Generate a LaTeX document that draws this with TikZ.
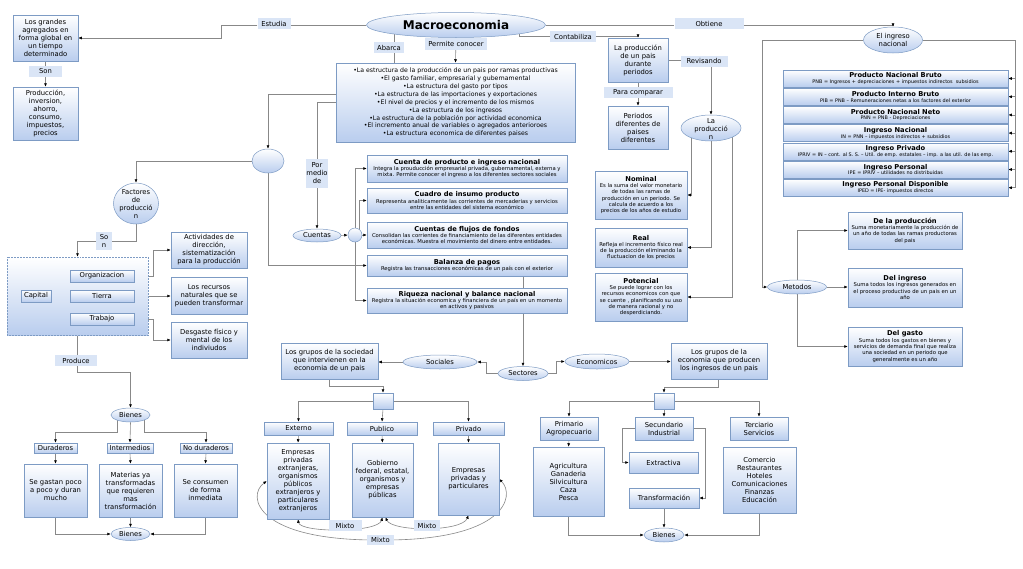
\documentclass[tikz,border=0pt]{standalone}
\usepackage{fontspec}
\setmainfont{DejaVu Sans}
\usetikzlibrary{shapes.geometric,arrows.meta,calc}
\definecolor{bd}{HTML}{7D9BC4}
\definecolor{bb}{HTML}{B9CDEE}
\definecolor{lb}{HTML}{DAE5F6}
\definecolor{lnc}{HTML}{888888}
\newcommand{\txtN}{\fontsize{6.8}{8}\selectfont}
\newcommand{\txtL}{\fontsize{6.2}{7.85}\selectfont}
\newcommand{\txtS}{\fontsize{5.3}{6.3}\selectfont}
\newcommand{\txtF}{\fontsize{4.9}{5.8}\selectfont}
\newcommand{\txtT}{\fontsize{6.7}{8}\selectfont\bfseries}
\pgfdeclarelayer{bg}
\pgfsetlayers{bg,main}
\tikzset{
 box/.style={draw=bd, line width=0.5pt, top color=white, bottom color=bb, align=center, inner sep=0.5pt, font=\txtN},
 lbl/.style={fill=lb, inner sep=0.5pt, align=center, font=\txtN},
 ell/.style={ellipse, draw=bd, line width=0.5pt, top color=white, bottom color=bb, inner sep=0pt},
 etxt/.style={inner sep=0pt, align=center, font=\txtN},
 conn/.style={draw=lnc, line width=0.6pt},
 arr/.style={conn, -{Latex[length=3.5pt,width=3pt,color=black]}},
 darr/.style={conn, {Latex[length=3.5pt,width=3pt,color=black]}-{Latex[length=3.5pt,width=3pt,color=black]}},
}
\begin{document}
\begin{tikzpicture}[x=1pt,y=-1pt]
\useasboundingbox (0,0) rectangle (1023,568);
% ---------- top ----------
\node[ell, minimum width=179pt, minimum height=25pt] (macro) at (456,25) {};
\node[etxt, font=\fontsize{12}{14}\selectfont\bfseries] (macro-t) at (macro) {Macroeconomia};
\node[lbl, minimum width=33pt, minimum height=11pt] (estudia) at (274,23.5) {Estudia};
\node[box, minimum width=65pt, minimum height=46pt] (grandes) at (45.5,38) {Los grandes\\agregados en\\forma global en\\un tiempo\\determinado};
\node[lbl, minimum width=33pt, minimum height=11pt] (son) at (45.5,71.5) {Son};
\node[box, minimum width=65pt, minimum height=53pt] (prod) at (45.5,113.5) {Producción,\\inversion,\\ahorro,\\consumo,\\impuestos,\\precios};
\node[lbl, minimum width=30pt, minimum height=11pt] (abarca) at (389,47.5) {Abarca};
\node[lbl, minimum width=62pt, minimum height=12pt] (permite) at (456,44) {Permite conocer};
\node[box, font=\txtL, minimum width=239pt, minimum height=79pt] (bullets) at (455.5,102.5) {•La estructura de la producción de un pais por ramas productivas\\•El gasto familiar, empresarial y gubernamental\\•La estructura del gasto por tipos\\•La estructura de las importaciones y exportaciones\\•El nivel de precios y el incremento de los mismos\\•La estructura de los ingresos\\•La estructura de la población por actividad economica\\•El incremento anual de variables o agregados anterioroes\\•La estructura economica de diferentes paises};
\node[lbl, minimum width=46pt, minimum height=11pt] (contab) at (573,36.5) {Contabiliza};
\node[lbl, minimum width=69pt, minimum height=11pt] (obtiene) at (709,23.5) {Obtiene};
\node[box, minimum width=60pt, minimum height=44pt] (ppais) at (638,60) {La producción\\de un pais\\durante\\periodos};
\node[lbl, minimum width=47pt, minimum height=11pt] (revis) at (704,61) {Revisando};
\node[lbl, minimum width=69pt, minimum height=11pt] (parac) at (638,92.5) {Para comparar};
\node[box, minimum width=60pt, minimum height=43pt] (periodos) at (638,127.5) {Periodos\\diferentes de\\paises\\diferentes};
\node[ell, minimum width=60pt, minimum height=26pt] (laprod) at (711,128) {};
\node[etxt] (laprod-t) at (711,129) {La\\producció\\n};
\node[box, font=\txtS, minimum width=92pt, minimum height=48pt] (nominal) at (641,195) {{\txtT Nominal}\\Es la suma del valor monetario\\de todas las ramas de\\producción en un periodo. Se\\calcula de acuerdo a los\\precios de los años de estudio};
\node[box, font=\txtS, minimum width=92pt, minimum height=39pt] (real) at (641,247.5) {{\txtT Real}\\Refleja el incremento físico real\\de la producción eliminando la\\fluctuacion de los precios};
\node[box, font=\txtS, minimum width=92pt, minimum height=48pt] (potencial) at (641,297) {{\txtT Potencial}\\Se puede lograr con los\\recursos economicos con que\\se cuente , planificando su uso\\de manera racional y no\\desperdiciando.};
% ---------- right ----------
\node[ell, minimum width=59pt, minimum height=26pt] (ingn) at (893,40) {};
\node[etxt] (ingn-t) at (893,40) {El ingreso\\nacional};
\node[box, font=\txtF, minimum width=225pt, minimum height=17pt] (f1) at (895.5,78.5) {{\txtT Producto Nacional Bruto}\\PNB = Ingresos + depreciaciones + impuestos indirectos\ \ subsidios};
\node[box, font=\txtF, minimum width=225pt, minimum height=17pt] (f2) at (895.5,96.7) {{\txtT Producto Interno Bruto}\\PIB = PNB – Remuneraciones netas a los factores del exterior};
\node[box, font=\txtF, minimum width=225pt, minimum height=17pt] (f3) at (895.5,114.9) {{\txtT Producto Nacional Neto}\\PNN = PNB - Depreciaciones};
\node[box, font=\txtF, minimum width=225pt, minimum height=17pt] (f4) at (895.5,133.1) {{\txtT Ingreso Nacional}\\IN = PNN – impuestos indirectos + subsidios};
\node[box, font=\txtF, minimum width=225pt, minimum height=17pt] (f5) at (895.5,151.3) {{\txtT Ingreso Privado}\\IPRIV = IN – cont. al S. S. – Util. de emp. estatales – imp. a las util. de las emp.};
\node[box, font=\txtF, minimum width=225pt, minimum height=17pt] (f6) at (895.5,169.5) {{\txtT Ingreso Personal}\\IPE = IPRIV – utilidades no distribuidas};
\node[box, font=\txtF, minimum width=225pt, minimum height=17pt] (f7) at (895.5,187.7) {{\txtT Ingreso Personal Disponible}\\IPED = IPE- impuestos directos};
\node[ell, minimum width=59pt, minimum height=14pt] (metodos) at (797,287) {};
\node[etxt] (metodos-t) at (797,287) {Metodos};
\node[box, font=\txtS, minimum width=114pt, minimum height=37pt] (dprod) at (905,230.5) {{\txtT De la producción}\\Suma monetariamente la producción de\\un año de todas las ramas productoras\\del pais};
\node[box, font=\txtS, minimum width=114pt, minimum height=39pt] (ding) at (905,287.5) {{\txtT Del ingreso}\\Suma todos los ingresos generados en\\el proceso productivo de un pais en un\\año};
\node[box, font=\txtS, minimum width=114pt, minimum height=39pt] (dgasto) at (905,346.5) {{\txtT Del gasto}\\Suma todos los gastos en bienes y\\servicios de demanda final que realiza\\una sociedad en un periodo que\\generalmente es un año};
% ---------- left middle ----------
\node[ell, minimum width=32pt, minimum height=24pt] (c1) at (268,161) {};
\node[ell, minimum width=45pt, minimum height=41pt] (factores) at (136,203.5) {};
\node[etxt] (factores-t) at (136,204) {Factores\\de\\producció\\n};
\node[lbl, minimum width=16pt, minimum height=18pt] (son2) at (104,241) {So\\n};
\node[box, draw=bd, densely dotted, minimum width=141pt, minimum height=78pt] (group) at (77.5,296) {};
\node[box, minimum width=30pt, minimum height=12pt] (capital) at (36,296) {Capital};
\node[box, minimum width=64pt, minimum height=12pt] (organizacion) at (102,276) {Organizacion};
\node[box, minimum width=64pt, minimum height=12pt] (tierra) at (102,296) {Tierra};
\node[box, minimum width=64pt, minimum height=12pt] (trabajo) at (102,319) {Trabajo};
\node[box, minimum width=76pt, minimum height=36pt] (activ) at (209,250) {Actividades de\\dirección,\\sistematización\\para la producción};
\node[box, minimum width=76pt, minimum height=37pt] (recursos) at (209,295.5) {Los recursos\\naturales que se\\pueden transformar};
\node[box, minimum width=76pt, minimum height=36pt] (desgaste) at (209,340) {Desgaste físico y\\mental de los\\indiviudos};
\node[lbl, minimum width=42pt, minimum height=11pt] (produce) at (76,360.5) {Produce};
\node[ell, minimum width=39pt, minimum height=14pt] (bienesA) at (130.5,415) {};
\node[etxt] (bienesA-t) at (130.5,415) {Bienes};
\node[box, minimum width=43pt, minimum height=10pt] (durad) at (55.5,448) {Duraderos};
\node[box, minimum width=46pt, minimum height=10pt] (interm) at (130,448) {Intermedios};
\node[box, minimum width=52pt, minimum height=10pt] (nodur) at (206,448) {No duraderos};
\node[box, minimum width=63pt, minimum height=53pt] (segastan) at (55.5,490.5) {Se gastan poco\\a poco y duran\\mucho};
\node[box, minimum width=63pt, minimum height=53pt] (materias) at (130.5,490.5) {Materias ya\\transformadas\\que requieren\\mas\\transformación};
\node[box, minimum width=63pt, minimum height=53pt] (seconsumen) at (205.5,490.5) {Se consumen\\de forma\\inmediata};
\node[ell, minimum width=39pt, minimum height=13pt] (bienesB) at (130.5,534) {};
\node[etxt] (bienesB-t) at (130.5,534) {Bienes};
% ---------- middle ----------
\node[lbl, minimum width=21pt, minimum height=29pt] (pormedio) at (317,173) {Por\\medio\\de};
\node[ell, minimum width=48pt, minimum height=13pt] (cuentas) at (317,235.5) {};
\node[etxt] (cuentas-t) at (317,235.5) {Cuentas};
\node[ell, minimum width=14pt, minimum height=14pt] (c2) at (355,235) {};
\node[box, font=\txtS, minimum width=200pt, minimum height=27pt] (cpin) at (467,168.5) {{\txtT Cuenta de producto e ingreso nacional}\\Integra la prouducción empresarial privada, gubernamental, externa y\\mixta. Permite conocer el ingreso a los diferentes sectores sociales};
\node[box, font=\txtS, minimum width=200pt, minimum height=25pt] (cip) at (467,200.5) {{\txtT Cuadro de insumo producto}\\Representa analiticamente las corrientes de mercaderias y servicios\\entre las entidades del sistema económico};
\node[box, font=\txtS, minimum width=200pt, minimum height=26pt] (cff) at (467,235) {{\txtT Cuentas de flujos de fondos}\\Consolidan las corrientes de financiamiento de las diferentes entidades\\económicas. Muestra el movimiento del dinero entre entidades.};
\node[box, font=\txtS, minimum width=200pt, minimum height=21pt] (bp) at (467,265.5) {{\txtT Balanza de pagos}\\Registra las transacciones económicas de un país con el exterior};
\node[box, font=\txtS, minimum width=200pt, minimum height=25pt] (rn) at (467,300.5) {{\txtT Riqueza nacional y balance nacional}\\Registra la situación economica y financiera de un país en un momento\\en activos y pasivos};
\node[ell, minimum width=50pt, minimum height=14pt] (sectores) at (523,373.5) {};
\node[etxt] (sectores-t) at (523,373.5) {Sectores};
\node[ell, minimum width=74pt, minimum height=14pt] (sociales) at (440,362) {};
\node[etxt] (sociales-t) at (440,362) {Sociales};
\node[box, minimum width=97pt, minimum height=36pt] (gsoc) at (329.5,361) {Los grupos de la sociedad\\que intervienen en la\\economia de un pais};
\node[box, minimum width=20pt, minimum height=16pt] (sb1) at (383,401) {};
\node[box, minimum width=69pt, minimum height=13pt] (externo) at (298.5,428.5) {Externo};
\node[box, minimum width=70pt, minimum height=13pt] (publico) at (382,428.5) {Publico};
\node[box, minimum width=71pt, minimum height=13pt] (privado) at (468.5,428.5) {Privado};
\node[box, minimum width=62pt, minimum height=76pt] (empext) at (298,481) {Empresas\\privadas\\extranjeras,\\organismos\\públicos\\extranjeros y\\particulares\\extranjeros};
\node[box, minimum width=61pt, minimum height=74pt] (gobierno) at (382.5,480) {Gobierno\\federal, estatal,\\organismos y\\empresas\\públicas};
\node[box, minimum width=61pt, minimum height=72pt] (emppriv) at (468.5,479) {Empresas\\privadas y\\particulares};
\node[lbl, minimum width=33pt, minimum height=11pt] (mixto1) at (345,525.5) {Mixto};
\node[lbl, minimum width=26pt, minimum height=11pt] (mixto2) at (427,525.5) {Mixto};
\node[lbl, minimum width=27pt, minimum height=10pt] (mixto3) at (380.5,540) {Mixto};
\node[ell, minimum width=64pt, minimum height=15pt] (econ) at (597,361.5) {};
\node[etxt] (econ-t) at (597,361.5) {Economicos};
\node[box, minimum width=96pt, minimum height=36pt] (geco) at (719,361) {Los grupos de la\\economia que producen\\los ingresos de un pais};
\node[box, minimum width=20pt, minimum height=16pt] (sb2) at (664,401) {};
\node[box, minimum width=58pt, minimum height=23pt] (primario) at (569,428.5) {Primario\\Agropecuario};
\node[box, minimum width=58pt, minimum height=23pt] (secund) at (664,428.5) {Secundario\\Industrial};
\node[box, minimum width=58pt, minimum height=23pt] (terc) at (759,428.5) {Terciario\\Servicios};
\node[box, minimum width=71pt, minimum height=69pt] (agri) at (568.5,481.5) {Agricultura\\Ganaderia\\Silvicultura\\Caza\\Pesca};
\node[box, minimum width=69pt, minimum height=21pt] (extract) at (663.5,462.5) {Extractiva};
\node[box, minimum width=70pt, minimum height=20pt] (transf) at (664,498) {Transformación};
\node[box, minimum width=73pt, minimum height=66pt] (comercio) at (759.5,480) {Comercio\\Restaurantes\\Hoteles\\Comunicaciones\\Finanzas\\Educación};
\node[ell, minimum width=40pt, minimum height=14pt] (bienesC) at (664,535) {};
\node[etxt] (bienesC-t) at (664,535) {Bienes};
% ---------- connectors ----------
\coordinate (abtop) at ($(macro.center)+(-62,0)$);
\coordinate (ctop) at ($(macro.center)+(63,0)$);
\coordinate (lcol) at (762,0);
\coordinate (rcol) at (1015,0);
\begin{pgfonlayer}{bg}
\fill[white] (0,0) rectangle (1023,568);
\draw[conn] (macro.west) -- (macro.west -| estudia.east);
\draw[arr] (estudia.west |- macro.west) -- ++(-36,0) |- (grandes.east);
\draw[arr] (grandes.south) -- (prod.north);
\draw[conn] (abtop) -- (abtop |- bullets.north);
\draw[arr] (macro.south) -- (bullets.north);
\draw[conn] (macro.east) -- (macro.east -| obtiene.west);
\draw[arr] (obtiene.east |- macro.east) -| (ingn.north);
\draw[conn] (ctop) |- (contab.west);
\draw[arr] (contab.east) -| (ppais.north);
\draw[arr] (ppais.east) -| (laprod.north);
\draw[arr] (ppais.south) -- (periodos.north);
\draw[arr] ($(laprod.center)+(-20,0)$) |- (nominal.east);
\draw[arr] (laprod.center) |- (real.east);
\draw[arr] ($(laprod.center)+(21,0)$) |- (potencial.east);
\draw[arr] (ingn.west) -- (ingn.west -| lcol) |- (metodos.west);
\draw[conn] (ingn.east) -| (f7.east -| rcol);
\foreach \i in {1,...,7} {\draw[arr] (f\i.east -| rcol) -- (f\i.east);}
\draw[arr] (metodos.north) |- (dprod.west);
\draw[arr] (metodos.east) -- (metodos.east -| ding.west);
\draw[arr] (metodos.south) |- (dgasto.west);
\draw[arr] ($(bullets.west)+(0,-8.5)$) -| (c1.north);
\draw[arr] (bullets.west) -| (cuentas.north);
\draw[arr] (c1.west) -| (factores.north);
\draw[arr] (c1.south) |- (bp.west);
\draw[arr] (factores.south) |- (son2.center -| group.north) -- (group.north);
\draw[arr] (capital.east) -- (tierra.west);
\draw[arr] (capital.north) |- (organizacion.west);
\draw[arr] (capital.south) |- (trabajo.west);
\draw[arr] (organizacion.east) -- ++(19,0) |- (activ.west);
\draw[arr] (tierra.east) -- (tierra.east -| recursos.west);
\draw[arr] (trabajo.east) -- ++(19,0) |- (desgaste.west);
\draw[arr] (group.south) -- ++(0,37) -| (bienesA.north);
\draw[arr] ($(bienesA.center)+(-13,0)$) -- ++(0,17) -| (durad.north);
\draw[arr] (bienesA.south) -- (interm.north);
\draw[arr] ($(bienesA.center)+(14,0)$) -- ++(0,17) -| (nodur.north);
\draw[arr] (durad.south) -- (segastan.north);
\draw[arr] (interm.south) -- (materias.north);
\draw[arr] (nodur.south) -- (seconsumen.north);
\draw[arr] (segastan.south) |- (bienesB.west);
\draw[arr] (materias.south) -- (bienesB.north);
\draw[arr] (seconsumen.south) |- (bienesB.east);
\draw[arr] (cuentas.east) -- (c2.west);
\draw[arr] (c2.north) |- (cpin.west);
\draw[arr] ($(c2.center)+(4,0)$) |- (cip.west);
\draw[arr] (c2.east) -- (c2.east -| cff.west);
\draw[arr] (c2.south) |- (rn.west);
\draw[arr] (sectores.north |- bp.south) -- (sectores.north);
\draw[arr] (sectores.west) -- ++(-11,0) |- (sociales.east);
\draw[arr] (sociales.west) -- (sociales.west -| gsoc.east);
\draw[arr] (gsoc.south) -- ++(0,7) -| (sb1.north);
\draw[arr] (sb1.west) -| (externo.north);
\draw[arr] (sb1.south) -- (publico.north);
\draw[arr] (sb1.east) -| (privado.north);
\draw[arr] (externo.south) -- (empext.north);
\draw[arr] (publico.south) -- (gobierno.north);
\draw[arr] (privado.south) -- (emppriv.north);
\draw[darr] (empext.south) .. controls (300,533) and (378,533) .. (gobierno.south);
\draw[darr] ($(gobierno.south)+(3,0)$) .. controls (392,532) and (462,532) .. (emppriv.south);
\draw[darr] (empext.west) .. controls (246,496) and (256,541) .. (mixto3.center) .. controls (505,541) and (516,496) .. (emppriv.east);
\draw[arr] (sectores.east) -- ++(8,0) |- (econ.west);
\draw[arr] (econ.east) -- (econ.east -| geco.west);
\draw[arr] ($(geco.south)+(-1,0)$) -- ++(0,8) -| (sb2.north);
\draw[arr] (sb2.west) -| (primario.north);
\draw[arr] (sb2.south) -- (secund.north);
\draw[arr] (sb2.east) -| (terc.north);
\draw[arr] (primario.south) -- (agri.north);
\draw[arr] (secund.west) -- ++(-12,0) |- (extract.west);
\draw[arr] (secund.east) -- ++(12,0) |- (transf.east);
\draw[arr] (transf.south) -- (bienesC.north);
\draw[arr] (agri.south) |- (bienesC.west);
\draw[arr] (comercio.south) |- (bienesC.east);
\end{pgfonlayer}
\end{tikzpicture}
\end{document}
